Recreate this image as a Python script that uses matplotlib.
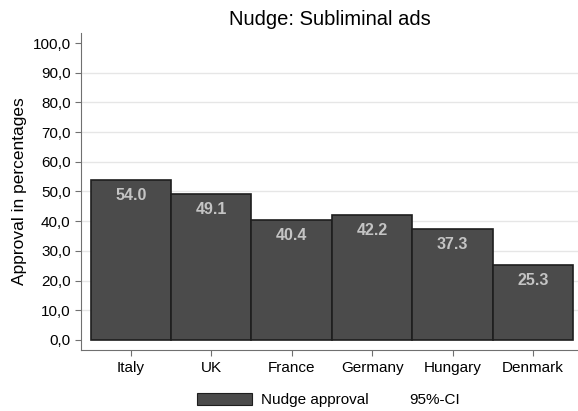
import matplotlib.pyplot as plt
from matplotlib.patches import Patch
from matplotlib.lines import Line2D

plt.rcParams['font.family'] = ['Liberation Sans', 'DejaVu Sans']

countries = ['Italy', 'UK', 'France', 'Germany', 'Hungary', 'Denmark']
approval = [54.0, 49.1, 40.4, 42.2, 37.3, 25.3]
yticks = [0, 10, 20, 30, 40, 50, 60, 70, 80, 90, 100]

fig = plt.figure(figsize=(5.78, 4.11), dpi=100)
ax = fig.add_axes([81 / 578, 61 / 411, 1 - 81 / 578, 317 / 411])

x = list(range(len(countries)))
ax.bar(x, approval, width=1.0, color='#4b4b4b', edgecolor='#1e1e1e',
       linewidth=1.2, zorder=3)

# value labels inside the top of each bar
for xi, v in zip(x, approval):
    ax.text(xi, v - 5.2, f'{v:.1f}', ha='center', va='center',
            color='#c4c4c4', fontsize=11.5, fontweight='bold', zorder=4)

ax.set_xlim(-0.62, 5.56)
ax.set_ylim(-3.4, 103.4)
ax.set_xticks(x)
ax.set_xticklabels(countries, fontsize=11)
ax.set_yticks(yticks)
ax.set_yticklabels([f'{t:.1f}'.replace('.', ',') for t in yticks], fontsize=11)

for t in yticks[1:-1]:
    ax.axhline(t, color='#e6e6e6', linewidth=1.0, zorder=1)

for side in ['top', 'right']:
    ax.spines[side].set_visible(False)
ax.spines['left'].set_color('#707070')
ax.spines['bottom'].set_color('#707070')
ax.tick_params(axis='both', colors='#707070', labelcolor='black',
               length=4, width=0.8)
ax.tick_params(axis='x', pad=4)

ax.set_ylabel('Approval in percentages', fontsize=12.5, labelpad=4)
ax.set_title('Nudge: Subliminal ads', fontsize=14.5, pad=6)

handles = [Patch(facecolor='#4b4b4b', edgecolor='#1e1e1e', linewidth=0.8),
           Line2D([], [], color='none')]
fig.legend(handles, ['Nudge approval', '95%-CI'], loc='center left',
           bbox_to_anchor=(183 / 578, 0.027), ncol=2, frameon=False,
           fontsize=11, handlelength=3.6, handleheight=0.9, handletextpad=0.6,
           columnspacing=-1.55)

fig.savefig('out.png', dpi=100)
